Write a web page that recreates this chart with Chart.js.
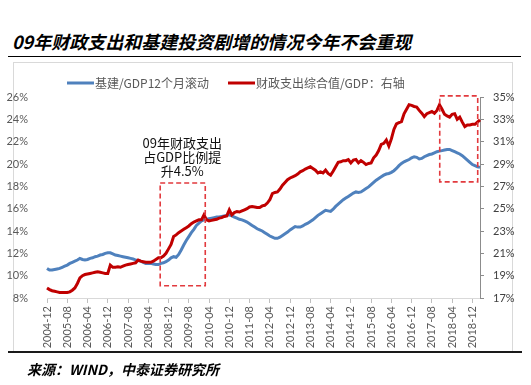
<!DOCTYPE html>
<html>
<head>
<meta charset="utf-8">
<script src="https://cdn.jsdelivr.net/npm/chart.js@4.4.1/dist/chart.umd.min.js"></script>
<style>
  body { margin: 0; background: #fff; }
  #wrap { position: relative; width: 531px; height: 385px; overflow: hidden; }
  #title {
    position: absolute; left: 12px; top: 28px;
    font: italic bold 18px "Noto Sans CJK SC", sans-serif; color: #000; white-space: nowrap;
  }
  #rule-top { position: absolute; left: 8px; top: 56px; width: 513px; height: 1px; background: #000; }
  #frame { position: absolute; left: 13px; top: 62px; width: 498px; height: 289px; border: 1px solid #d9d9d9; border-bottom: none; }
  #rule-bottom { position: absolute; left: 8px; top: 351px; width: 514px; height: 2px; background: #1a1a1a; }
  #source {
    position: absolute; left: 27px; top: 359px;
    font: italic bold 14px "Noto Sans CJK SC", sans-serif; color: #000; white-space: nowrap;
  }
  canvas { position: absolute; left: 0; top: 0; }
</style>
</head>
<body>
<div id="wrap">
  <div id="title">09年财政支出和基建投资剧增的情况今年不会重现</div>
  <div id="rule-top"></div>
  <div id="frame"></div>
  <canvas id="chart" width="531" height="385"></canvas>
  <div id="rule-bottom"></div>
  <div id="source">来源：WIND，中泰证券研究所</div>
</div>
<script>
// monthly, 2004-12 .. 2019-03
const months = [];
for (let y = 2004, m = 12; months.length < 172; m++) {
  if (m > 12) { m = 1; y++; }
  months.push(`${y}-${String(m).padStart(2, '0')}`);
}

// 基建/GDP 12个月滚动 (left axis, %)
const infraGdp = [
  10.65,
  10.5, 10.5, 10.55, 10.6, 10.65, 10.75, 10.85, 10.95, 11.1, 11.2, 11.3, 11.4,
  11.55, 11.45, 11.4, 11.45, 11.55, 11.6, 11.7, 11.75, 11.85, 11.9, 12.0, 12.05,
  12.05, 11.95, 11.85, 11.8, 11.75, 11.7, 11.65, 11.6, 11.55, 11.5, 11.4, 11.35,
  11.3, 11.2, 11.1, 11.1, 11.1, 11.05, 11.0, 11.0, 11.1, 11.15, 11.25, 11.4,
  11.6, 11.7, 11.65, 11.9, 12.3, 12.75, 13.15, 13.5, 13.85, 14.15, 14.5, 14.7,
  14.9, 15.0, 15.05, 15.1, 15.15, 15.2, 15.25, 15.25, 15.3, 15.35, 15.4, 15.45,
  15.35, 15.25, 15.15, 15.05, 15.0, 14.9, 14.8, 14.65, 14.5, 14.35, 14.2, 14.1,
  14.0, 13.85, 13.7, 13.55, 13.45, 13.35, 13.35, 13.45, 13.6, 13.75, 13.9, 14.1,
  14.25, 14.4, 14.35, 14.35, 14.45, 14.6, 14.7, 14.85, 15.0, 15.2, 15.4, 15.55,
  15.7, 15.85, 15.8, 15.75, 15.95, 16.2, 16.4, 16.6, 16.8, 16.95, 17.1, 17.25,
  17.4, 17.5, 17.45, 17.5, 17.65, 17.8, 17.95, 18.15, 18.35, 18.55, 18.7, 18.85,
  19.0, 19.1, 19.15, 19.25, 19.4, 19.6, 19.85, 20.05, 20.2, 20.3, 20.4, 20.55,
  20.65, 20.6, 20.45, 20.5, 20.65, 20.75, 20.85, 20.9, 21.0, 21.1, 21.15, 21.2,
  21.25, 21.3, 21.3, 21.2, 21.1, 21.0, 20.9, 20.75, 20.55, 20.35, 20.15, 19.95,
  19.85, 19.75, 19.7,
];

// 财政支出综合值/GDP (right axis, %)
const fiscalGdp = [
  17.9,
  17.75, 17.65, 17.6, 17.55, 17.5, 17.5, 17.5, 17.5, 17.55, 17.7, 17.9, 18.3,
  18.8, 19.0, 19.1, 19.15, 19.2, 19.25, 19.3, 19.35, 19.3, 19.25, 19.2, 19.2,
  19.95, 19.75, 19.75, 19.8, 19.75, 19.85, 19.95, 20.0, 20.05, 20.1, 20.15, 20.4,
  20.3, 20.25, 20.2, 20.2, 20.2, 20.3, 20.45, 20.6, 20.6, 20.75, 21.0, 21.4,
  21.8, 22.5, 22.65, 22.85, 23.0, 23.15, 23.3, 23.45, 23.65, 23.8, 23.9, 24.0,
  24.0, 24.45, 24.0, 23.9, 23.95, 24.0, 24.05, 24.15, 24.2, 24.3, 24.35, 24.9,
  24.45, 24.65, 24.75, 24.7, 24.8, 24.9, 25.0, 25.15, 25.2, 25.15, 25.1, 25.1,
  25.25, 25.3, 25.5, 25.8, 26.35, 26.45, 26.5, 26.75, 27.1, 27.35, 27.6, 27.75,
  27.85, 27.95, 28.1, 28.3, 28.4, 28.55, 28.65, 28.75, 28.6, 28.45, 28.2, 28.3,
  28.2, 28.45, 28.15, 28.0, 28.35, 28.75, 29.15, 29.2, 29.3, 29.3, 29.4, 29.1,
  29.35, 29.4, 29.1, 29.3, 29.15, 28.95, 29.05, 29.1, 29.55, 29.8, 30.2, 30.75,
  30.85, 31.15, 30.6, 31.25, 32.1, 32.6, 32.7, 32.8, 33.5, 33.9, 34.3, 34.25,
  34.15, 34.1, 33.8, 33.55, 33.25, 33.5, 33.6, 33.7, 33.55, 33.8, 34.3, 33.9,
  33.45, 33.3, 33.2, 33.45, 33.5, 33.0, 33.2, 32.75, 32.35, 32.5, 32.5, 32.55,
  32.55, 32.75, 32.95,
];

// dashed highlight boxes, in category index / left-axis units
const highlightBoxes = [
  { from: 44.7, to: 62.5, top: 18.3, bottom: 9.1 },
  { from: 155.1, to: 170.1, top: 26.1, bottom: 18.4 },
];
const noteLines = ['09年财政支出', '占GDP比例提', '升4.5%'];
const noteAt = { index: 53.4, value: 21.9 };

const grayText = '#595959';
const tickFont = { family: 'Lato', size: 11 };

const boxesPlugin = {
  id: 'boxes',
  afterDatasetsDraw(chart) {
    const { ctx, scales } = chart;
    const x = scales.x, y = scales.yL;
    ctx.save();
    ctx.strokeStyle = 'rgb(226,58,62)';
    ctx.lineWidth = 1.6;
    ctx.setLineDash([5, 3]);
    highlightBoxes.forEach((b) => {
      const x0 = x.getPixelForValue(b.from), x1 = x.getPixelForValue(b.to);
      const y0 = y.getPixelForValue(b.top), y1 = y.getPixelForValue(b.bottom);
      ctx.strokeRect(x0, y0, x1 - x0, y1 - y0);
    });
    ctx.setLineDash([]);
    ctx.fillStyle = '#111';
    ctx.font = '13px "Noto Sans CJK SC", sans-serif';
    ctx.textAlign = 'center';
    ctx.textBaseline = 'middle';
    const cx = x.getPixelForValue(noteAt.index);
    const cy = y.getPixelForValue(noteAt.value);
    noteLines.forEach((line, i) => ctx.fillText(line, cx, cy + i * 14));
    ctx.restore();
  },
};

const legendPlugin = {
  id: 'lineLegend',
  afterDraw(chart) {
    const { ctx } = chart;
    const starts = [67, 228];
    ctx.save();
    ctx.font = '12px "Noto Sans CJK SC", sans-serif';
    ctx.textBaseline = 'middle';
    ctx.fillStyle = grayText;
    chart.data.datasets.forEach((ds, i) => {
      const x = starts[i], y = 83;
      ctx.strokeStyle = ds.borderColor;
      ctx.lineWidth = 3;
      ctx.beginPath();
      ctx.moveTo(x, y);
      ctx.lineTo(x + 27, y);
      ctx.stroke();
      ctx.fillText(ds.label, x + 28, y);
    });
    ctx.restore();
  },
};

new Chart(document.getElementById('chart'), {
  type: 'line',
  data: {
    labels: months,
    datasets: [
      {
        label: '基建/GDP12个月滚动',
        data: infraGdp,
        yAxisID: 'yL',
        borderColor: '#4f81bd',
        borderWidth: 3,
        pointRadius: 0,
        tension: 0,
        order: 1,
      },
      {
        label: '财政支出综合值/GDP：右轴',
        data: fiscalGdp,
        yAxisID: 'yR',
        borderColor: '#c00000',
        borderWidth: 3,
        pointRadius: 0,
        tension: 0,
        order: 0,
      },
    ],
  },
  options: {
    responsive: false,
    animation: false,
    layout: { padding: { top: 97, left: 0, right: 0, bottom: 0 } },
    plugins: { legend: { display: false }, tooltip: { enabled: false } },
    scales: {
      x: {
        offset: false,
        grid: {
          drawOnChartArea: false,
          tickLength: 5,
          color: (c) => (c.index % 8 === 0 ? '#bfbfbf' : 'rgba(0,0,0,0)'),
        },
        border: { color: '#d9d9d9' },
        ticks: {
          autoSkip: false,
          maxRotation: 90,
          minRotation: 90,
          padding: 3,
          color: grayText,
          font: tickFont,
          callback: (v, i) => (i % 8 === 0 ? months[i] : ''),
        },
        afterFit: (s) => { s.height = 87; },
      },
      yL: {
        position: 'left',
        min: 8,
        max: 26,
        grid: { display: false },
        border: { display: false },
        ticks: { stepSize: 2, padding: 11, color: grayText, font: tickFont, callback: (v) => v + '%' },
        afterFit: (s) => { s.width = 47; },
      },
      yR: {
        position: 'right',
        min: 17,
        max: 35,
        grid: { drawOnChartArea: false, tickLength: 4, color: '#8c8c8c' },
        border: { color: '#8c8c8c' },
        ticks: { stepSize: 2, padding: 9, color: '#404040', font: tickFont, callback: (v) => v + '%' },
        afterFit: (s) => { s.width = 51; },
      },
    },
  },
  plugins: [boxesPlugin, legendPlugin],
});
</script>
</body>
</html>
